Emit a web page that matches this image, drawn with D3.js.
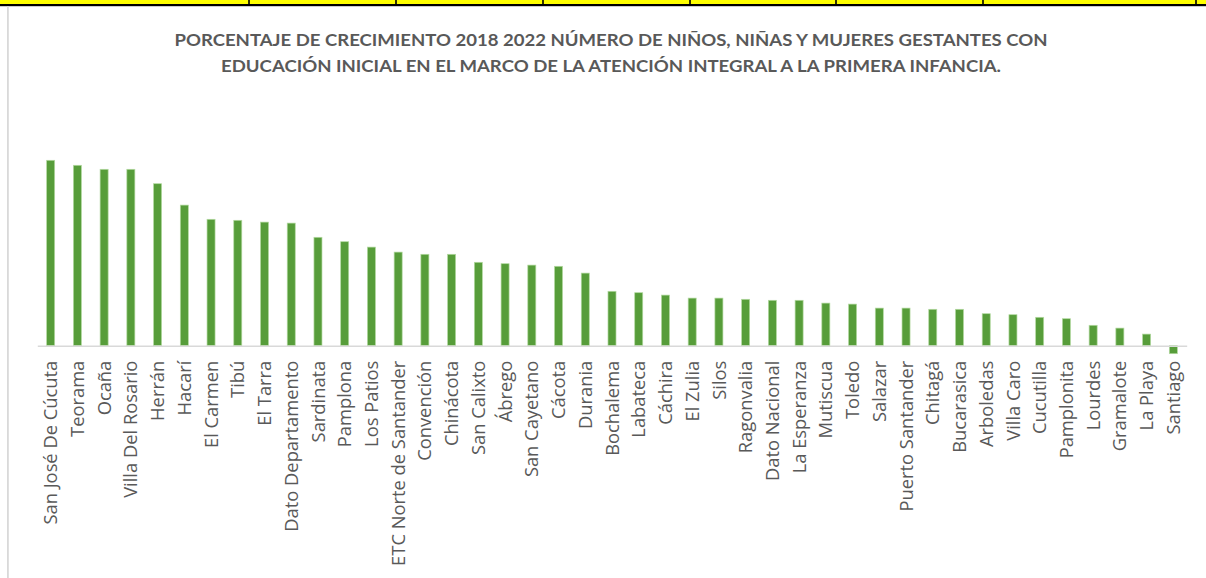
<!DOCTYPE html>
<html>
<head>
<meta charset="utf-8">
<script src="https://cdn.jsdelivr.net/npm/d3@7/dist/d3.min.js"></script>
<style>
  html, body { margin: 0; padding: 0; background: #ffffff; }
  svg { display: block; }
</style>
</head>
<body>
<svg id="chart" width="1206" height="578"></svg>
<script>
const titleLines = [
  "PORCENTAJE DE CRECIMIENTO 2018 2022 NÚMERO DE NIÑOS, NIÑAS Y MUJERES GESTANTES CON",
  "EDUCACIÓN INICIAL EN EL MARCO DE LA ATENCIÓN INTEGRAL A LA PRIMERA INFANCIA."
];
const categories = [
  "San José De Cúcuta", "Teorama", "Ocaña", "Villa Del Rosario", "Herrán", "Hacarí",
  "El Carmen", "Tibú", "El Tarra", "Dato Departamento", "Sardinata", "Pamplona",
  "Los Patios", "ETC Norte de Santander", "Convención", "Chinácota", "San Calixto",
  "Ábrego", "San Cayetano", "Cácota", "Durania", "Bochalema", "Labateca", "Cáchira",
  "El Zulia", "Silos", "Ragonvalia", "Dato Nacional", "La Esperanza", "Mutiscua",
  "Toledo", "Salazar", "Puerto Santander", "Chitagá", "Bucarasica", "Arboledas",
  "Villa Caro", "Cucutilla", "Pamplonita", "Lourdes", "Gramalote", "La Playa", "Santiago"
];
const growthPct = [
  92.7, 90.2, 88.2, 88.2, 81.0, 70.3,
  63.2, 62.7, 61.8, 61.3, 54.2, 52.0,
  49.3, 46.8, 45.7, 45.7, 41.7,
  41.0, 40.3, 39.7, 36.3, 27.2, 26.5, 25.3,
  23.8, 23.8, 23.2, 22.7, 22.7, 21.3,
  20.8, 18.8, 18.8, 18.2, 18.2, 16.0,
  15.5, 14.2, 13.5, 10.2, 8.8, 5.8, -4.0
];
const headerDividers = [249, 396, 543, 690, 836, 983, 1196];

const svg = d3.select("#chart");
const W = 1206, H = 578;

// spreadsheet header strip
svg.append("rect").attr("x", 0).attr("y", 0).attr("width", W).attr("height", 5).attr("fill", "#ffff00");
svg.append("rect").attr("x", 0).attr("y", 4).attr("width", W).attr("height", 2.2).attr("fill", "#000000");
svg.selectAll("rect.div").data(headerDividers).join("rect")
  .attr("class", "div")
  .attr("x", d => d - 0.8).attr("y", 0).attr("width", 1.6).attr("height", 5).attr("fill", "#000000");

// chart border (left)
svg.append("rect").attr("x", 7).attr("y", 6.2).attr("width", 1.8).attr("height", H - 6).attr("fill", "#d9d9d9");

// title
const title = svg.append("g");
const titleY = [46, 72];
titleLines.forEach((t, i) => {
  title.append("text")
    .attr("x", 611).attr("y", titleY[i])
    .attr("text-anchor", "middle")
    .attr("font-family", "Lato, 'Open Sans', sans-serif")
    .attr("font-weight", "bold")
    .attr("font-size", 15)
    .attr("fill", "#595959")
    .text(t);
});
// fit line widths to the reference
const titleWidths = [873, 780];
title.selectAll("text").each(function(d, i) {
  const len = this.getComputedTextLength();
  const fs = 15 * titleWidths[i] / len;
  d3.select(this).attr("font-size", Math.min(fs, 17));
  const len2 = this.getComputedTextLength();
  d3.select(this).attr("textLength", titleWidths[i]).attr("lengthAdjust", "spacingAndGlyphs");
});

// scales
const x = d3.scaleBand().domain(categories).range([37.3, 1186.7]).paddingInner(0.7).paddingOuter(0.35);
const y = d3.scaleLinear().domain([0, 100]).range([345.7, 145.7]);

// bars
svg.append("g").selectAll("rect").data(categories).join("rect")
  .attr("x", d => x(d))
  .attr("y", (d, i) => y(Math.max(0, growthPct[i])))
  .attr("width", x.bandwidth())
  .attr("height", (d, i) => Math.abs(y(growthPct[i]) - y(0)))
  .attr("fill", "#579d3a")
  .attr("stroke", "#b3d9a0")
  .attr("stroke-width", 0.7);

// axis
const axis = svg.append("g").attr("transform", `translate(0,${y(0)})`)
  .call(d3.axisBottom(x).tickSize(0).tickPadding(0));
axis.select(".domain").attr("stroke", "#d9d9d9").attr("stroke-width", 1.6);
const labels = axis.selectAll(".tick text")
  .attr("font-family", "'Open Sans', sans-serif")
  .attr("font-size", 17)
  .attr("fill", "#595959")
  .attr("text-anchor", "end")
  .attr("transform", "rotate(-90)")
  .attr("x", -15)
  .attr("y", 0)
  .attr("dy", "0.36em");
// fit font size so the longest label matches reference length
const ref = labels.filter(d => d === "San José De Cúcuta").node();
const refLen = ref.getComputedTextLength();
labels.attr("font-size", 17 * 164 / refLen);
</script>
</body>
</html>
